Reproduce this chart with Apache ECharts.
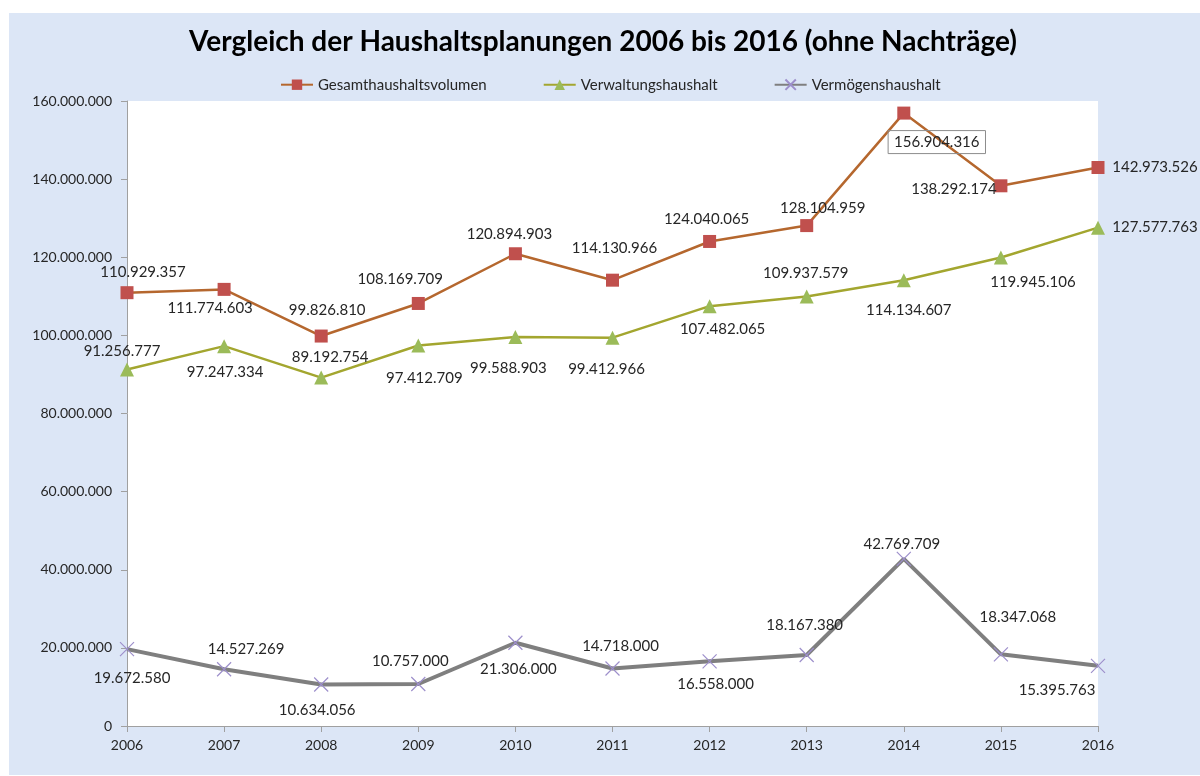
<!DOCTYPE html>
<html>
<head>
<meta charset="utf-8">
<script src="https://cdn.jsdelivr.net/npm/echarts@6/dist/echarts.min.js"></script>
<style>
  html, body { margin: 0; padding: 0; background: #fff; }
  #mycharts {
    position: absolute;
    left: 9px;
    top: 13px;
    width: 1191px;
    height: 762px;
  }
</style>
</head>
<body>
<div id="mycharts"></div>
<script>
// Jahre
var years = ["2006", "2007", "2008", "2009", "2010", "2011", "2012", "2013", "2014", "2015", "2016"];
// Werte in Euro
var gesamt = [110929357, 111774603, 99826810, 108169709, 120894903, 114130966, 124040065, 128104959, 156904316, 138292174, 142973526];
var verwaltung = [91256777, 97247334, 89192754, 97412709, 99588903, 99412966, 107482065, 109937579, 114134607, 119945106, 127577763];
var vermoegen = [19672580, 14527269, 10634056, 10757000, 21306000, 14718000, 16558000, 18167380, 42769709, 18347068, 15395763];

// Lage der Beschriftungen relativ zum Punkt (nur Darstellung)
var offGesamt = [[16, -21], [-14, 19], [6, -26], [-18, -24], [-6, -20], [2, -32], [-3, -22], [16, -17], [33, 29], [-47, 3], [57, 0]];
var offVerwaltung = [[-5, -18], [1, 26], [9, -20], [6, 33], [-7, 31], [-6, 31], [13, 23], [-1, -23], [5, 30], [32, 25], [57, 0]];
var offVermoegen = [[5, 29], [22, -20], [-4, 26], [-8, -23], [3, 26], [8, -22], [6, 23], [-2, -30], [-2, -15], [17, -37], [-41, 24]];

function fmt(v) {
  return String(v).replace(/\B(?=(\d{3})+(?!\d))/g, ".");
}

function build(values, offs, boxed) {
  return values.map(function (v, i) {
    var item = { value: v, label: { offset: offs[i] } };
    if (i === boxed) {
      item.label.borderColor = "#8c8c8c";
      item.label.borderWidth = 1;
      item.label.padding = [5, 6, 3, 6];
    }
    return item;
  });
}

var labelStyle = {
  show: true,
  position: "inside",
  fontFamily: "Lato",
  fontSize: 15,
  color: "#262626",
  formatter: function (p) { return fmt(p.value); }
};

var myCharts = echarts.init(document.getElementById("mycharts"));
var option = {
  backgroundColor: "#dce6f6",
  animation: false,
  textStyle: { fontFamily: "Lato" },
  title: {
    text: "Vergleich der Haushaltsplanungen 2006 bis 2016 (ohne Nachträge)",
    left: 175,
    top: 10,
    textStyle: { fontFamily: "Lato", fontWeight: "bold", fontSize: 28, color: "#000" }
  },
  legend: {
    top: 59,
    left: 266,
    itemWidth: 32,
    itemHeight: 13,
    itemGap: 56,
    textStyle: { fontFamily: "Lato", fontSize: 15, color: "#262626" },
    data: ["Gesamthaushaltsvolumen", "Verwaltungshaushalt", "Vermögenshaushalt"]
  },
  grid: {
    left: 118,
    right: 102,
    top: 88,
    bottom: 49,
    show: true,
    backgroundColor: "#ffffff",
    borderWidth: 0
  },
  xAxis: {
    type: "category",
    data: years,
    boundaryGap: false,
    axisLine: { lineStyle: { color: "#a0a0a0" } },
    axisTick: { show: true, length: 6, lineStyle: { color: "#a0a0a0" } },
    axisLabel: { fontSize: 14, color: "#262626", margin: 12 },
    splitLine: { show: false }
  },
  yAxis: {
    type: "value",
    min: 0,
    max: 160000000,
    interval: 20000000,
    axisLine: { show: true, lineStyle: { color: "#a0a0a0" } },
    axisTick: { show: true, length: 6, lineStyle: { color: "#a0a0a0" } },
    axisLabel: { fontSize: 14, color: "#262626", margin: 15, formatter: function (v) { return fmt(v); } },
    splitLine: { show: false }
  },
  series: [
    {
      name: "Gesamthaushaltsvolumen",
      type: "line",
      data: build(gesamt, offGesamt, 8),
      symbol: "rect",
      symbolSize: 13,
      lineStyle: { color: "#b5672e", width: 2.5 },
      itemStyle: { color: "#c0504d" },
      label: labelStyle,
      z: 3
    },
    {
      name: "Verwaltungshaushalt",
      type: "line",
      data: build(verwaltung, offVerwaltung, -1),
      symbol: "triangle",
      symbolSize: 14,
      lineStyle: { color: "#a3a62f", width: 2.5 },
      itemStyle: { color: "#9bbb59" },
      label: labelStyle,
      z: 3
    },
    {
      name: "Vermögenshaushalt",
      type: "line",
      data: build(vermoegen, offVermoegen, -1),
      symbol: "path://M0,0L10,10M10,0L0,10",
      symbolSize: 14,
      lineStyle: { color: "#7f7f7f", width: 4 },
      itemStyle: { color: "none", borderColor: "#9d8fcb", borderWidth: 1.2 },
      label: labelStyle,
      z: 3
    }
  ]
};
myCharts.setOption(option);
</script>
</body>
</html>
